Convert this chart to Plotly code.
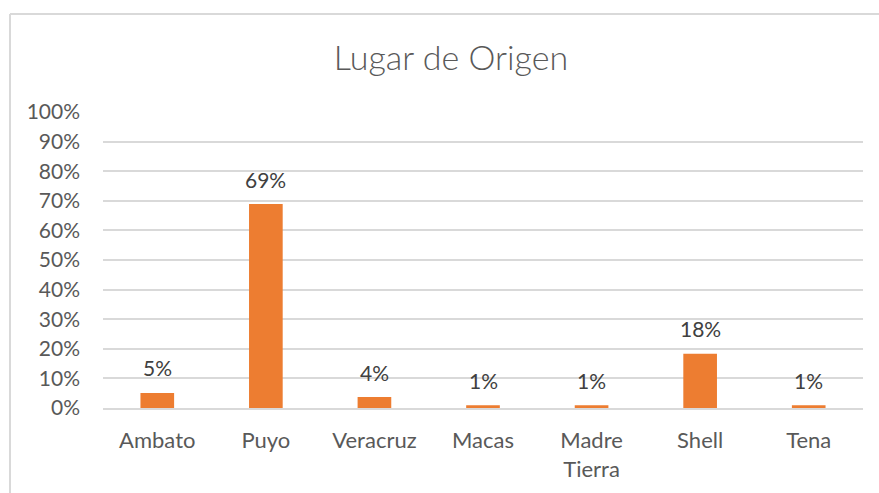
import plotly.graph_objects as go

categories = ["Ambato", "Puyo", "Veracruz", "Macas", "Madre<br>Tierra", "Shell", "Tena"]
values = [0.051, 0.689, 0.037, 0.009, 0.009, 0.183, 0.009]
tick_vals = [0, 0.1, 0.2, 0.3, 0.4, 0.5, 0.6, 0.7, 0.8, 0.9, 1.0]
tick_text = ["0%", "10%", "20%", "30%", "40%", "50%", "60%", "70%", "80%", "90%", "100%"]
title_text = "Lugar de Origen"

FONT = "Lato"
W, H = 879, 493

fig = go.Figure()
fig.add_trace(go.Bar(
    x=categories, y=values,
    marker=dict(color="#ED7D31", line=dict(width=0)),
    hoverinfo="skip",
))

for c, v in zip(categories, values):
    fig.add_annotation(
        x=c, y=v, xref="x", yref="y",
        text=f"{round(v*100):.0f}%",
        showarrow=False, yanchor="middle", yshift=25,
        font=dict(family=FONT, size=21, color="#404040"),
    )

# chart border (top and left visible)
fig.add_shape(type="line", xref="paper", yref="paper",
              x0=-93/760, x1=(879-103)/760, y0=(493-14-85)/296, y1=(493-14-85)/296,
              line=dict(color="#D9D9D9", width=2))
fig.add_shape(type="line", xref="paper", yref="paper",
              x0=-93/760, x1=-93/760, y0=-85/296, y1=(493-14-85)/296,
              line=dict(color="#D9D9D9", width=2))

fig.update_layout(
    width=W, height=H,
    margin=dict(l=103, r=16, t=112, b=85, autoexpand=False),
    paper_bgcolor="white", plot_bgcolor="white",
    bargap=0.69,
    showlegend=False,
    title=dict(text=title_text, xref="paper", x=(451-103)/760, xanchor="center",
               yref="container", y=1-58/H, yanchor="middle",
               font=dict(family=FONT, size=34, color="#595959", weight=300)),
    xaxis=dict(showgrid=False, showline=True, linecolor="#D9D9D9", linewidth=2,
               ticks="", tickfont=dict(family=FONT, size=22, color="#595959"),
               ticklabelstandoff=12),
    yaxis=dict(range=[0, 1], tickvals=tick_vals, ticktext=tick_text,
               showgrid=True, gridcolor="#D9D9D9", gridwidth=2,
               zeroline=False, showline=False, ticks="",
               tickfont=dict(family=FONT, size=21, color="#595959"),
               ticklabelstandoff=22),
)
fig.write_html("out.html", config={"displayModeBar": False},
               post_script="document.body.style.margin='0';document.body.style.overflow='hidden';")
